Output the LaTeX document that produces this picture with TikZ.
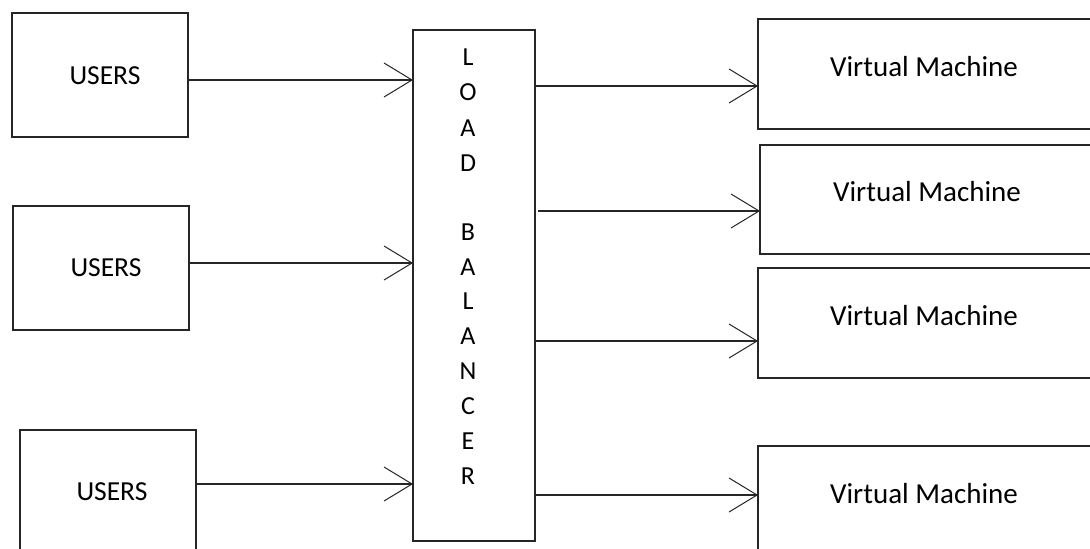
\documentclass[tikz,border=0pt]{standalone}
\usepackage{fontspec}
\setmainfont{Carlito}
\usetikzlibrary{arrows.meta}
\begin{document}
\begin{tikzpicture}[x=1pt,y=-1pt,
  box/.style={draw=black!85, line width=1.7pt, rectangle, inner sep=0pt, outer sep=0pt},
  lbl/.style={font=\fontsize{27.5}{32}\selectfont, text=black, inner sep=0pt, anchor=center},
  vmlbl/.style={font=\fontsize{29}{34}\selectfont, text=black, inner sep=0pt, anchor=center},
  lbletter/.style={font=\fontsize{26}{30}\selectfont, text=black, inner sep=0pt, anchor=center},
  arr/.style={draw=black!85, line width=1.4pt,
    -{Straight Barb[length=28pt,width=34pt,line width=1pt]}}
]
\useasboundingbox (0,0) rectangle (1090,549);
\fill[white] (0,0) rectangle (1090,549);
\clip (0,0) rectangle (1090,549);

% user boxes
\node[box, minimum width=176pt, minimum height=124pt, anchor=north west] (u1) at (12,13) {};
\node[box, minimum width=176pt, minimum height=124pt, anchor=north west] (u2) at (13,206) {};
\node[box, minimum width=176pt, minimum height=124pt, anchor=north west] (u3) at (20,430) {};
\node[lbl] (u1t) at (105,76) {USERS};
\node[lbl] (u2t) at (106,268) {USERS};
\node[lbl] (u3t) at (112,492) {USERS};

% load balancer
\node[box, minimum width=122pt, minimum height=511pt, anchor=north west] (lb) at (413,30) {};
\foreach \ch/\yy [count=\i] in {L/57,O/92,A/128,D/163,B/232,A/267,L/301,A/336,N/371,C/406,E/441,R/476}
  \node[lbletter] (lb-\i) at (468,\yy) {\ch};

% virtual machine boxes
\node[box, minimum width=342pt, minimum height=110pt, anchor=north west] (vm1) at (758,19) {};
\node[box, minimum width=340pt, minimum height=109pt, anchor=north west] (vm2) at (760,145) {};
\node[box, minimum width=342pt, minimum height=110pt, anchor=north west] (vm3) at (758,268) {};
\node[box, minimum width=342pt, minimum height=110pt, anchor=north west] (vm4) at (758,446) {};
\node[vmlbl] (vm1t) at (924,67) {Virtual Machine};
\node[vmlbl] (vm2t) at (927,192) {Virtual Machine};
\node[vmlbl] (vm3t) at (924,316) {Virtual Machine};
\node[vmlbl] (vm4t) at (924,494) {Virtual Machine};

% users to load balancer
\path ([yshift=-5pt]u1.east) coordinate (s1);
\path ([yshift=5pt]u2.east) coordinate (s2);
\path ([yshift=8pt]u3.east) coordinate (s3);
\draw[arr] (s1) -- (s1 -| lb.west);
\draw[arr] (s2) -- (s2 -| lb.west);
\draw[arr] (s3) -- (s3 -| lb.west);

% load balancer to virtual machines
\path ([yshift=-12pt]vm1.west) coordinate (t1);
\path ([yshift=-11.5pt]vm2.west) coordinate (t2);
\path ([yshift=-18pt]vm3.west) coordinate (t3);
\path ([yshift=6pt]vm4.west) coordinate (t4);
\draw[arr] (t1 -| lb.east) -- (t1);
\draw[arr] ([xshift=3pt]t2 -| lb.east) -- (t2);
\draw[arr] (t3 -| lb.east) -- (t3);
\draw[arr] (t4 -| lb.east) -- (t4);
\end{tikzpicture}
\end{document}
